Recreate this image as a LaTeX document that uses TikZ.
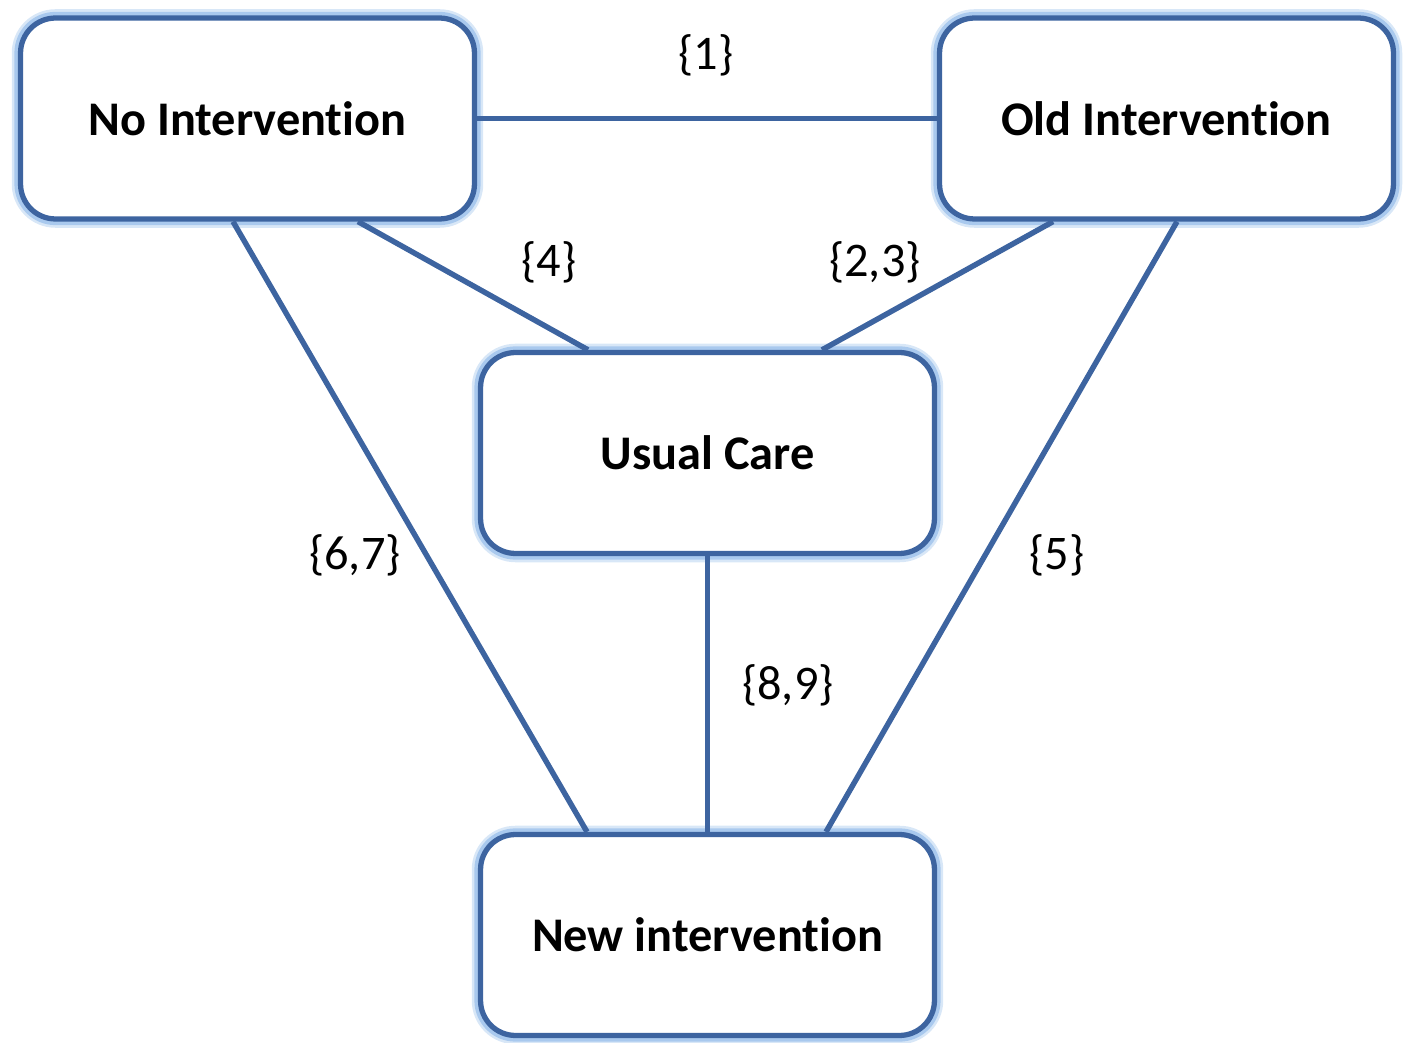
\documentclass[tikz,border=0pt]{standalone}
\usepackage{fontspec}
\setmainfont[Ligatures=NoCommon]{Carlito}
\usepackage{xcolor}
\definecolor{edgeblue}{HTML}{3D64A0}
\definecolor{glowblue}{HTML}{A9C9EE}

\begin{document}
\begin{tikzpicture}[x=0.02cm, y=-0.02cm,
    box/.style={draw=edgeblue, line width=3pt, rounded corners=0.7cm, fill=white,
                minimum width=9.08cm, minimum height=4.02cm,
                font=\fontsize{27.5}{32}\selectfont\bfseries,
                preaction={draw=glowblue!45, line width=10pt},
                preaction={draw=glowblue, line width=7pt}},
    link/.style={draw=edgeblue, line width=3.1pt},
    lbl/.style={font=\fontsize{27.5}{32}\selectfont}]
    \useasboundingbox (0,0) rectangle (1407,1043);
				\node[box] (none)  at (247.5,118.5)  {No Intervention};
				\node[box] (old)   at (1166.5,118.5) {Old Intervention};
				\node[box] (usual) at (707.5,453)    {Usual Care};
				\node[box] (new)   at (707.5,935)    {New intervention};
				\draw[link] (none) -- (old);
				\draw[link] ([xshift=2.21cm]none.south) -- ([xshift=-2.39cm]usual.north);
				\draw[link] ([xshift=-2.27cm]old.south) -- ([xshift=2.29cm]usual.north);
				\draw[link] ([xshift=-0.29cm]none.south) -- ([xshift=-2.41cm]new.north);
				\draw[link] ([xshift=0.21cm]old.south) -- ([xshift=2.37cm]new.north);
				\draw[link] (usual) -- (new);
				\node[lbl] (l1)  at (706,55)   {\{1\}};
				\node[lbl] (l4)  at (549,262)  {\{4\}};
				\node[lbl] (l23) at (875,262)  {\{2,3\}};
				\node[lbl] (l67) at (355,555)  {\{6,7\}};
				\node[lbl] (l5)  at (1057,555) {\{5\}};
				\node[lbl] (l89) at (788,685)  {\{8,9\}};
			\end{tikzpicture}
\end{document}
